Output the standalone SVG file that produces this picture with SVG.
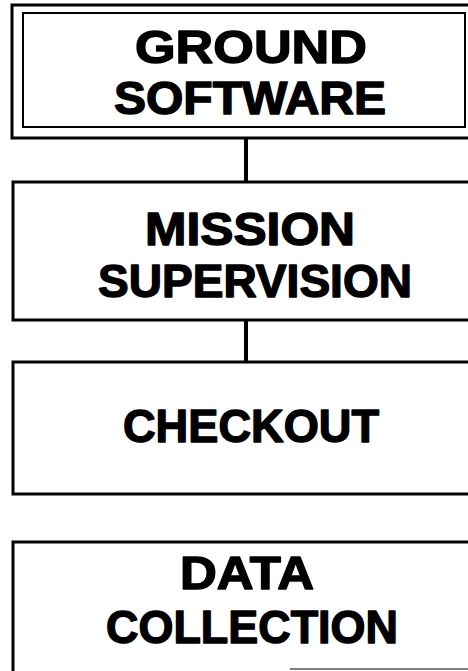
<svg xmlns="http://www.w3.org/2000/svg" width="468" height="671" viewBox="0 0 468 671">
<style>
.box{fill:none;stroke:#000;stroke-width:3}
.inner{fill:none;stroke:#000;stroke-width:2}
.conn{stroke:#000;stroke-width:4}
.lbl{font-family:"Liberation Sans","DejaVu Sans",sans-serif;font-weight:bold;font-size:46px;fill:#000;stroke:#000;stroke-width:1.4;stroke-linejoin:round;text-anchor:middle}
</style>
<rect width="468" height="671" fill="#fff"/>
<g id="connectors">
<line class="conn" x1="246" y1="138" x2="246" y2="182"/>
<line class="conn" x1="246" y1="320" x2="246" y2="362"/>
</g>
<g id="ground-software">
<rect class="box" x="12" y="5" width="470" height="133"/>
<rect class="inner" x="23" y="13" width="442" height="114"/>
<text class="lbl" x="251" y="63" textLength="232" lengthAdjust="spacingAndGlyphs">GROUND</text>
<text class="lbl" x="250" y="114" textLength="272" lengthAdjust="spacingAndGlyphs">SOFTWARE</text>
</g>
<g id="mission-supervision">
<rect class="box" x="13" y="182" width="470" height="138"/>
<text class="lbl" x="250" y="245" textLength="210" lengthAdjust="spacingAndGlyphs">MISSION</text>
<text class="lbl" x="255" y="297" textLength="314" lengthAdjust="spacingAndGlyphs">SUPERVISION</text>
</g>
<g id="checkout">
<rect class="box" x="13" y="362" width="470" height="132"/>
<text class="lbl" x="251" y="442" textLength="256" lengthAdjust="spacingAndGlyphs">CHECKOUT</text>
</g>
<g id="data-collection">
<path class="box" d="M13 671 V542 H470"/>
<line x1="290" y1="669" x2="468" y2="669" stroke="#555" stroke-width="1.5"/>
<text class="lbl" x="247" y="589" textLength="134" lengthAdjust="spacingAndGlyphs">DATA</text>
<text class="lbl" x="252" y="643" textLength="292" lengthAdjust="spacingAndGlyphs">COLLECTION</text>
</g>
</svg>
